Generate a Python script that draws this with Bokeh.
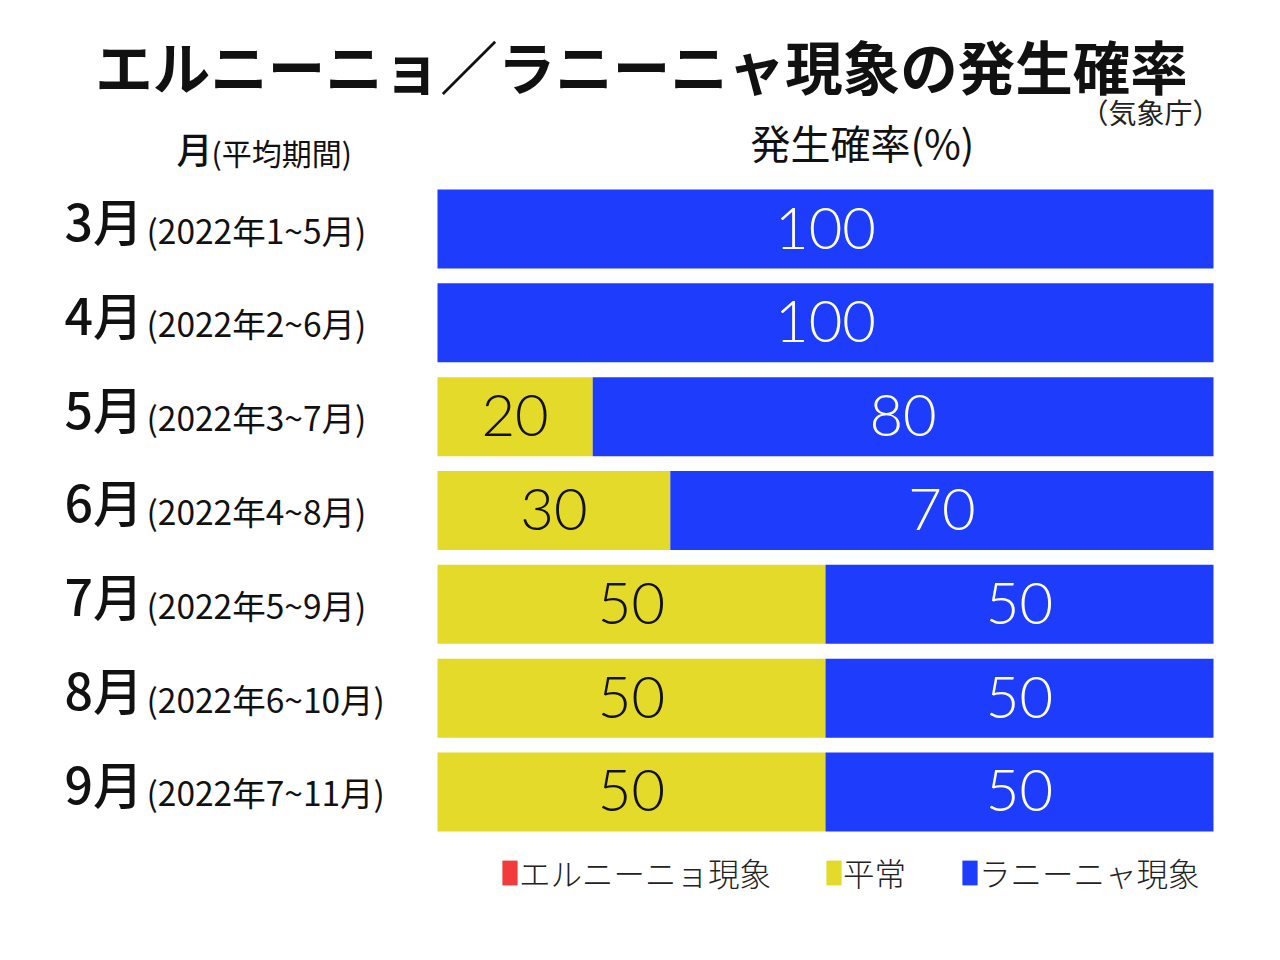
from bokeh.plotting import figure
from bokeh.models import ColumnDataSource, Range1d, Label, Legend, LegendItem
from bokeh.core.properties import value
from bokeh.embed import file_html
from bokeh.resources import INLINE

# ---- data ----
months = ["3月", "4月", "5月", "6月", "7月", "8月", "9月"]
periods = ["(2022年1~5月)", "(2022年2~6月)", "(2022年3~7月)", "(2022年4~8月)",
           "(2022年5~9月)", "(2022年6~10月)", "(2022年7~11月)"]
elnino = [0, 0, 0, 0, 0, 0, 0]
normal = [0, 0, 20, 30, 50, 50, 50]
lanina = [100, 100, 80, 70, 50, 50, 50]
series_names = ["エルニーニョ現象", "平常", "ラニーニャ現象"]
series_keys = ["elnino", "normal", "lanina"]
colors = ["#f23c3c", "#e4da2a", "#1e3cfc"]
label_colors = ["white", "#111111", "white"]

title_text = "エルニーニョ／ラニーニャ現象の発生確率"
source_text = "（気象庁）"
row_head_big = "月"
row_head_small = "(平均期間)"
value_head = "発生確率(%)"

# ---- layout constants (pixels) ----
W, H = 1280, 960
FRAME_L = 437          # canvas px where 0% sits
PX_PER_PCT = 7.76      # 776 px for 100 %
ROW0 = 228.5           # canvas y of first row centre
PITCH = 93.83

JP = "Noto Sans CJK JP"
JP_MED = "'Noto Sans CJK JP Medium', 'Noto Sans CJK JP'"
JP_LIGHT = "'Noto Sans CJK JP Light', 'Noto Sans CJK JP'"
NUM = "'Lato Light', Lato"

rows = list(range(len(months)))
src = ColumnDataSource(dict(row=rows, month=months, period=periods,
                            elnino=elnino, normal=normal, lanina=lanina))

p = figure(width=W, height=H, output_backend="svg", toolbar_location=None,
           x_axis_type=None, y_axis_type=None, min_border=0,
           x_range=Range1d(-FRAME_L / PX_PER_PCT, (W - FRAME_L) / PX_PER_PCT),
           y_range=Range1d((H - ROW0) / PITCH, -ROW0 / PITCH))
p.outline_line_color = None
p.background_fill_color = "white"
p.border_fill_color = "white"

bars = p.hbar_stack(series_keys, y="row", height=0.842, color=colors,
                    line_color=None, source=src)

# value labels on each segment
vx, vy, vt, vc = [], [], [], []
for i in rows:
    start = 0
    for k, vals in enumerate([elnino, normal, lanina]):
        v = vals[i]
        if v > 0:
            vx.append(start + v / 2)
            vy.append(i)
            vt.append(str(v))
            vc.append(label_colors[k])
        start += v
p.text(x=vx, y=vy, text=vt, text_color=vc, text_font=value(NUM),
       text_font_size="58px", text_align="center", text_baseline="middle",
       y_offset=-1)

# row labels
p.text(x=[0] * len(rows), y=rows, text=months, x_offset=-373, y_offset=-10,
       text_font=value(JP_MED), text_font_size="50px",
       text_align="left", text_baseline="middle", text_color="#111111")
p.text(x=[0] * len(rows), y=rows, text=periods, x_offset=-291, y_offset=0,
       text_font=value(JP), text_font_size="33.5px",
       text_align="left", text_baseline="middle", text_color="#111111")


def sy(canvas_y):
    return H - canvas_y


p.add_layout(Label(x=641, y=sy(64), x_units="screen", y_units="screen",
                   text=title_text, text_font=JP, text_font_style="bold",
                   text_font_size="57.5px", text_align="center",
                   text_baseline="middle", text_color="#111111"))
p.add_layout(Label(x=1150, y=sy(111.5), x_units="screen", y_units="screen",
                   text=source_text, text_font=JP, text_font_size="28px",
                   text_align="center", text_baseline="middle",
                   text_color="#222222"))
p.add_layout(Label(x=176, y=sy(147.7), x_units="screen", y_units="screen",
                   text=row_head_big, text_font=JP_MED, text_font_size="36px",
                   text_align="left",
                   text_baseline="middle", text_color="#111111"))
p.add_layout(Label(x=211, y=sy(151.5), x_units="screen", y_units="screen",
                   text=row_head_small, text_font=JP, text_font_size="30px",
                   text_align="left", text_baseline="middle",
                   text_color="#111111"))
p.add_layout(Label(x=750, y=sy(141), x_units="screen", y_units="screen",
                   text=value_head, text_font=JP, text_font_size="40px",
                   text_align="left", text_baseline="middle",
                   text_color="#111111"))

# legend: one legend per item for exact placement
legend_x = [500, 824, 960]
for k in range(3):
    lg = Legend(items=[LegendItem(label=series_names[k], renderers=[bars[k]])],
                location=(legend_x[k], 65), orientation="horizontal",
                glyph_width=19, glyph_height=31, label_standoff=0,
                padding=0, margin=0, border_line_alpha=0,
                background_fill_alpha=0, label_text_font=JP_LIGHT,
                label_text_font_size="31.5px", label_text_color="#222222",
                label_height=25)
    p.add_layout(lg)

open("out.html", "w").write(file_html(p, INLINE))
